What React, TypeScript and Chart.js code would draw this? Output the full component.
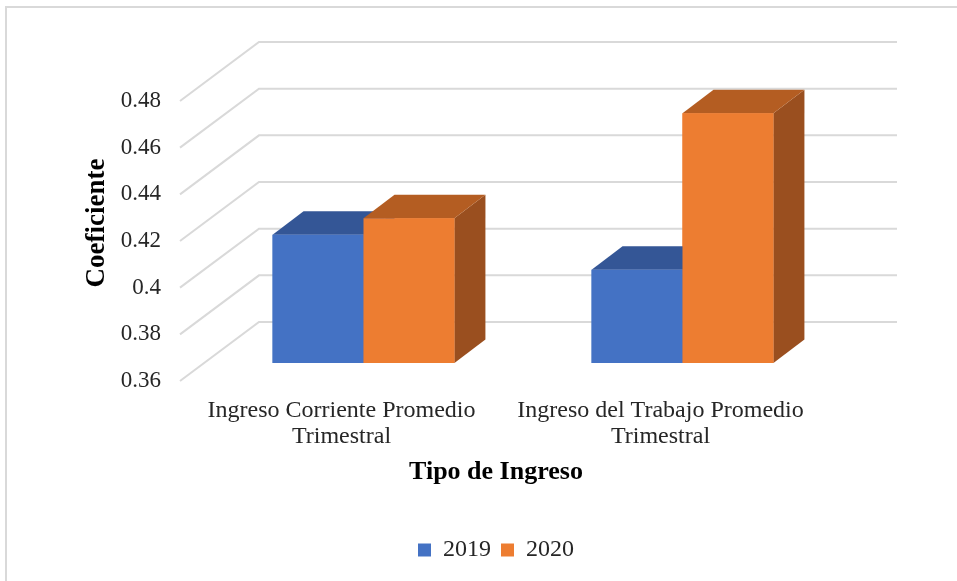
import React, { useEffect, useRef } from 'react';
import { Chart, registerables } from 'chart.js';

Chart.register(...registerables);

// ---- data ----
const categories: string[][] = [
  ['Ingreso Corriente Promedio', 'Trimestral'],
  ['Ingreso del Trabajo Promedio', 'Trimestral'],
];
const seriesNames = ['2019', '2020'];
const values2019 = [0.415, 0.4];
const values2020 = [0.422, 0.467];
const yTickValues = [0.36, 0.38, 0.4, 0.42, 0.44, 0.46, 0.48];
const yTickLabels = ['0.36', '0.38', '0.4', '0.42', '0.44', '0.46', '0.48'];
const xTitle = 'Tipo de Ingreso';
const yTitle = 'Coeficiente';

// ---- styles ----
const FONT = "'Liberation Serif', 'Times New Roman', serif";
const frontColors = ['#4472C4', '#ED7D31'];
const topColors = ['#345696', '#B45D22'];
const sideColors = ['#2D4C86', '#9A4F1F'];
const GRID = '#d9d9d9';
const DEPTH = { x: 31, y: -23.5 };
const FRONT = { x: -24, y: 18 };
const BACK = { x: 55, y: -41 };

const threeD = {
  id: 'threeD',
  beforeDraw(chart: any) {
    const { ctx, width, height } = chart;
    ctx.save();
    ctx.fillStyle = '#ffffff';
    ctx.fillRect(0, 0, width, height);
    ctx.strokeStyle = '#d9d9d9';
    ctx.lineWidth = 2;
    ctx.beginPath();
    ctx.moveTo(6, height + 2);
    ctx.lineTo(6, 7);
    ctx.lineTo(width + 2, 7);
    ctx.stroke();
    ctx.restore();
  },
  beforeDatasetsDraw(chart: any) {
    const { ctx, chartArea, scales } = chart;
    const y = scales.y;
    ctx.save();
    ctx.strokeStyle = GRID;
    ctx.lineWidth = 2;
    y.ticks.forEach((t: any) => {
      const py = y.getPixelForValue(t.value);
      ctx.beginPath();
      ctx.moveTo(chartArea.left + FRONT.x, py + FRONT.y);
      ctx.lineTo(chartArea.left + BACK.x, py + BACK.y);
      ctx.lineTo(chartArea.right + BACK.x, py + BACK.y);
      ctx.stroke();
    });
    ctx.restore();
  },
  afterDatasetsDraw(chart: any) {
    const { ctx, chartArea } = chart;
    const n = chart.data.datasets.length;
    ctx.save();
    // paint left-to-right so that right-hand bars cover hidden faces
    for (let i = 0; i < n; i++) {
      const meta = chart.getDatasetMeta(i);
      if (meta.hidden) continue;
      meta.data.forEach((bar: any) => {
        const p = bar.getProps(['x', 'y', 'base', 'width'], true);
        const x = p.x, y = p.y, width = p.width;
        const base = Math.min(p.base, chartArea.bottom);
        const l = x - width / 2;
        const r = x + width / 2;
        ctx.fillStyle = sideColors[i];
        ctx.beginPath();
        ctx.moveTo(r, y);
        ctx.lineTo(r + DEPTH.x, y + DEPTH.y);
        ctx.lineTo(r + DEPTH.x, base + DEPTH.y);
        ctx.lineTo(r, base);
        ctx.closePath();
        ctx.fill();
        ctx.fillStyle = topColors[i];
        ctx.beginPath();
        ctx.moveTo(l, y);
        ctx.lineTo(r, y);
        ctx.lineTo(r + DEPTH.x, y + DEPTH.y);
        ctx.lineTo(l + DEPTH.x, y + DEPTH.y);
        ctx.closePath();
        ctx.fill();
        bar.draw(ctx, chartArea);
      });
    }
    ctx.restore();
  },
};

export default function App() {
  const ref = useRef<HTMLCanvasElement | null>(null);
  useEffect(() => {
    if (!ref.current) return;
    const chart = new Chart(ref.current, {
      type: 'bar',
      data: {
        labels: categories,
        datasets: [
          { label: seriesNames[0], data: values2019, backgroundColor: frontColors[0], borderWidth: 0, base: yTickValues[0] },
          { label: seriesNames[1], data: values2020, backgroundColor: frontColors[1], borderWidth: 0, base: yTickValues[0] },
        ],
      },
      options: {
        responsive: false,
        animation: false,
        events: [],
        datasets: { bar: { categoryPercentage: 0.57, barPercentage: 1.0 } },
        layout: { padding: { left: 81, right: 46, top: 83, bottom: 9 } },
        plugins: {
          tooltip: { enabled: false },
          title: {
            display: true,
            position: 'bottom',
            text: xTitle,
            color: '#000',
            weight: 500,
            font: { family: FONT, size: 26, weight: 'bold', lineHeight: 1.2 },
            padding: { top: 1.4, bottom: 40.4 },
          },
          legend: {
            position: 'bottom',
            weight: 1000,
            labels: {
              boxWidth: 13,
              boxHeight: 13,
              padding: 10,
              color: '#262626',
              font: { family: FONT, size: 24 },
            },
          },
        },
        scales: {
          x: {
            grid: { display: false, drawTicks: false },
            border: { display: false },
            ticks: {
              color: '#262626',
              font: { family: FONT, size: 24, lineHeight: 1.08 },
              padding: 35,
              labelOffset: -22,
              maxRotation: 0,
              autoSkip: false,
            },
            afterFit: (axis: any) => {
              axis.height = 92;
            },
          },
          y: {
            min: yTickValues[0],
            max: yTickValues[yTickValues.length - 1],
            grid: { display: false, drawTicks: false },
            border: { display: false },
            afterBuildTicks: (axis: any) => {
              axis.ticks = yTickValues.map((v) => ({ value: v }));
            },
            ticks: {
              color: '#262626',
              font: { family: FONT, size: 23 },
              padding: 43,
              labelOffset: 18,
              callback: (_v: any, idx: number) => yTickLabels[idx],
            },
            title: {
              display: true,
              text: yTitle,
              color: '#000',
              font: { family: FONT, size: 27, weight: 'bold', lineHeight: 1.2 },
              padding: { top: 0, bottom: 0 },
            },
            afterFit: (axis: any) => {
              axis.width = 123;
            },
          },
          yRight: {
            type: 'linear',
            position: 'right',
            display: true,
            grid: { display: false, drawTicks: false },
            border: { display: false },
            ticks: { display: false },
            afterFit: (axis: any) => {
              axis.width = 69;
            },
          },
        },
      },
      plugins: [threeD],
    } as any);
    return () => chart.destroy();
  }, []);
  return (
    <div style={{ position: 'fixed', left: 0, top: 0, width: 957, height: 581, background: '#fff' }}>
      <canvas ref={ref} width={957} height={581} style={{ width: 957, height: 581, display: 'block' }} />
    </div>
  );
}
